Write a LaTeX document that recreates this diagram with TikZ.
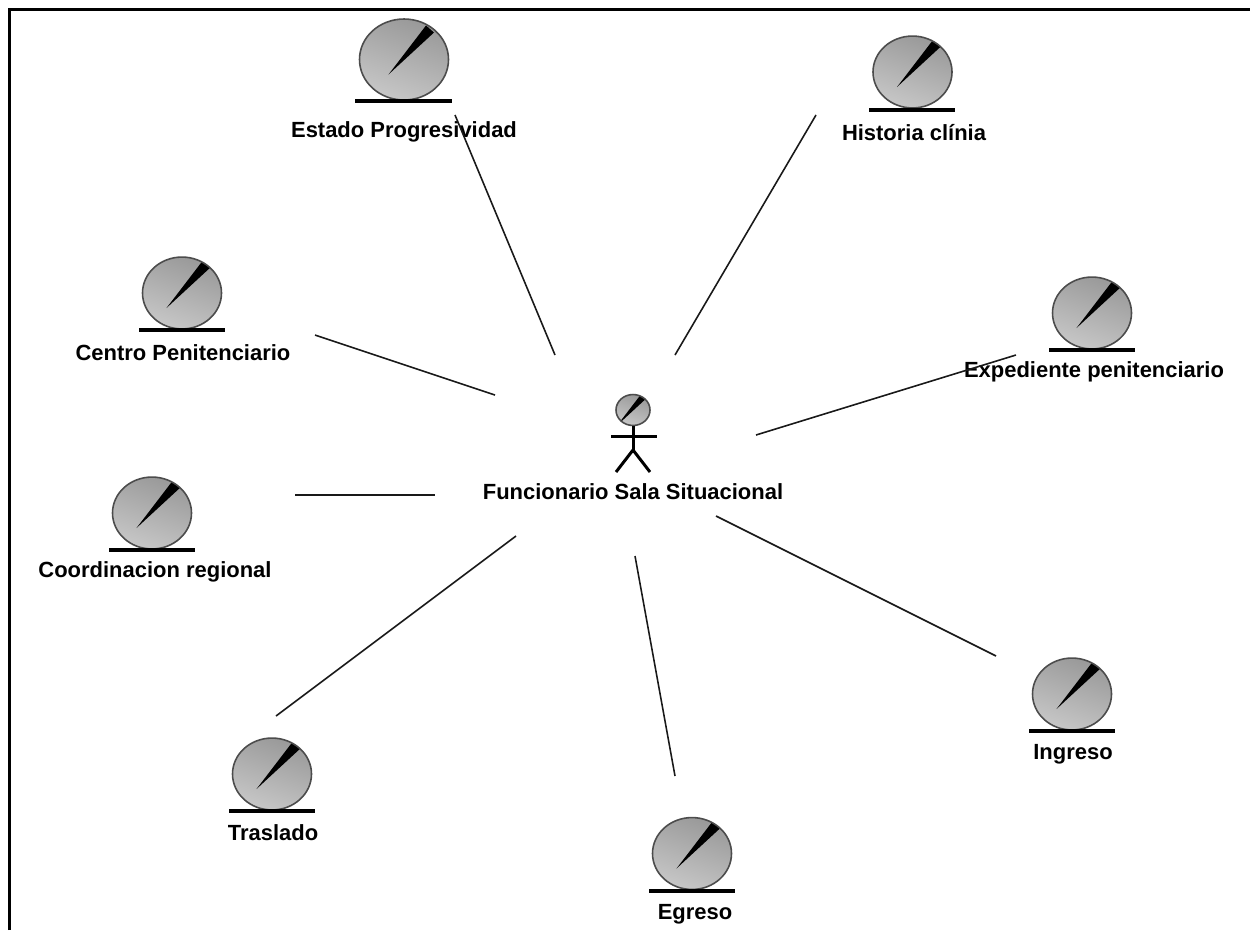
\documentclass[tikz,border=0pt]{standalone}
\usepackage{fontspec}
\setmainfont{Liberation Sans}
\usetikzlibrary{calc,shapes.geometric}
\tikzset{
  entity/.style={ellipse,draw=black!70,line width=0.9pt,inner sep=0pt,
    minimum width=#1*0.02cm,minimum height=#1*0.0182cm,
    top color=black!40,bottom color=black!22,middle color=black!31,shading angle=-20,
    path picture={
      \begin{scope}[shift={(path picture bounding box.center)},scale=#1/79]
        \fill[black] (-15.5,15) -- (22,-34) -- (30,-27) -- cycle;
      \end{scope}}},
  bar/.style={line width=2.5pt,black},
  conn/.style={line width=0.9pt,black!90},
  stick/.style={line width=1.7pt,black},
  lbl/.style={font=\fontsize{12.5}{14}\selectfont\bfseries,text=black,inner sep=0pt},
  frameline/.style={line width=2pt,black}
}
\begin{document}
\begin{tikzpicture}[x=0.02cm,y=-0.02cm]
\useasboundingbox (0,0) rectangle (1250,930);
\fill[white] (0,0) rectangle (1250,930);
% frame
\coordinate (fa) at (9.5,930);
\coordinate (fb) at (9.5,9.5);
\coordinate (fc) at (1250,9.5);
\draw[frameline] (fa) -- (fb) -- (fc);
% entities
\node[entity=89] (estado) at (404,59.5) {};
\node[entity=79] (historia) at (912.5,72) {};
\node[entity=79] (centro) at (182,293) {};
\node[entity=79] (expediente) at (1092,313) {};
\node[entity=79] (coord) at (152,513) {};
\node[entity=79] (traslado) at (272,774) {};
\node[entity=79] (egreso) at (692,853.5) {};
\node[entity=79] (ingreso) at (1072,694) {};
% bars
\draw[bar] (355,101) -- (452,101);
\draw[bar] (869,110) -- (955,110);
\draw[bar] (139,330) -- (225,330);
\draw[bar] (1049,350) -- (1135,350);
\draw[bar] (109,550) -- (195,550);
\draw[bar] (229,811) -- (315,811);
\draw[bar] (649,891) -- (735,891);
\draw[bar] (1029,731) -- (1115,731);
% actor
\node[entity=34] (actor) at (633,410) {};
\coordinate (hip) at (633,450);
\coordinate (armL) at (611,436);
\coordinate (armR) at (657,436);
\coordinate (legL) at (616,472);
\coordinate (legR) at (650,472);
\draw[stick] (actor.south) -- (hip);
\draw[stick] (armL) -- (armR);
\draw[stick] (legL) -- (hip) -- (legR);
% labels
\node[lbl] (lestado) at (404,132) {Estado Progresividad};
\node[lbl] (lhistoria) at (914,133) {Historia clínia};
\node[lbl] (lcentro) at (183,353) {Centro Penitenciario};
\node[lbl] (lexpediente) at (1094,372) {Expediente penitenciario};
\node[lbl] (lcoord) at (155,572) {Coordinacion regional};
\node[lbl] (lactor) at (633,492) {Funcionario Sala Situacional};
\node[lbl] (ltraslado) at (273,833) {Traslado};
\node[lbl] (legreso) at (695,914) {Egreso};
\node[lbl] (lingreso) at (1073,754) {Ingreso};
% connector ends
\coordinate (c1a) at (455,115); \coordinate (c1b) at (555,355);
\coordinate (c2a) at (816,115); \coordinate (c2b) at (675,355);
\coordinate (c3a) at (315,335); \coordinate (c3b) at (495,395);
\coordinate (c4a) at (1016,355); \coordinate (c4b) at (756,435);
\coordinate (c5a) at (295,495); \coordinate (c5b) at (435,495);
\coordinate (c6a) at (276,716); \coordinate (c6b) at (516,536);
\coordinate (c7a) at (675,776); \coordinate (c7b) at (635,556);
\coordinate (c8a) at (996,656); \coordinate (c8b) at (716,516);
\foreach \n in {1,...,8} \draw[conn] (c\n a) -- (c\n b);
\end{tikzpicture}
\end{document}
